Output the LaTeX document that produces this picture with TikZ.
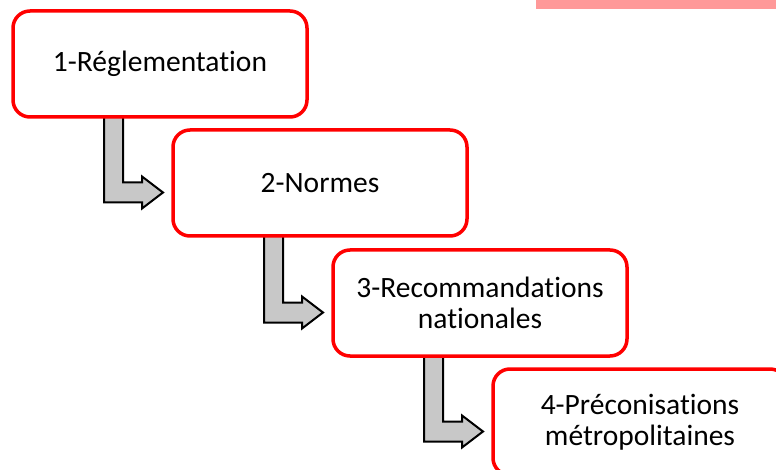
\documentclass[tikz,border=0pt]{standalone}
\usepackage{fontspec}
\setmainfont[Ligatures=NoCommon]{Carlito}
\usetikzlibrary{calc,backgrounds}
\definecolor{boxred}{RGB}{255,0,0}
\definecolor{bandpink}{RGB}{255,153,153}
\definecolor{arrowgray}{RGB}{200,200,200}

% Bent block arrow from the bottom of one stage into the side of the next
\newcommand{\stagearrow}[2]{%
  \coordinate (#1top) at ([xshift=91pt,yshift=3pt]#1.south west);
  \coordinate (#2lvl) at ([yshift=-52.5pt]#2.north west);
  \coordinate (#1bend) at (#1top |- #2lvl);
  \draw[bendarrow] (#1top) -- ($(#1top)+(19,0)$) -- ($(#1bend)+(19,0)$)
    -- ($(#1bend)+(38,0)$) -- ($(#1bend)+(38,-6)$) -- ($(#1bend)+(59,10)$)
    -- ($(#1bend)+(38,26)$) -- ($(#1bend)+(38,20)$) -- ($(#1bend)+(0,20)$) -- cycle;
}

\begin{document}
\begin{tikzpicture}[x=1pt,y=-1pt,
  stage/.style={draw=boxred, line width=3.5pt, fill=white, rounded corners=17pt,
    minimum width=294pt, minimum height=106pt, inner sep=0pt, outer sep=0pt,
    align=center, font=\fontsize{29.5}{31}\selectfont, anchor=north west},
  bendarrow/.style={draw=black, line width=2pt, fill=arrowgray, line join=miter}]
\useasboundingbox (0,0) rectangle (776,470);
\clip (0,0) rectangle (776,470);

% pink band at the top right
\fill[bandpink] (536,0) rectangle (776,9);

% the four stages
\node[stage] (s1) at (13,11)   {1-Réglementation};
\node[stage] (s2) at (173,130) {2-Normes};
\node[stage] (s3) at (333,250) {3-Recommandations\\nationales};
\node[stage] (s4) at (493,369) {4-Préconisations\\métropolitaines};

% arrows between stages, behind the boxes
\begin{scope}[on background layer]
  \stagearrow{s1}{s2}
  \stagearrow{s2}{s3}
  \stagearrow{s3}{s4}
\end{scope}
\end{tikzpicture}
\end{document}
